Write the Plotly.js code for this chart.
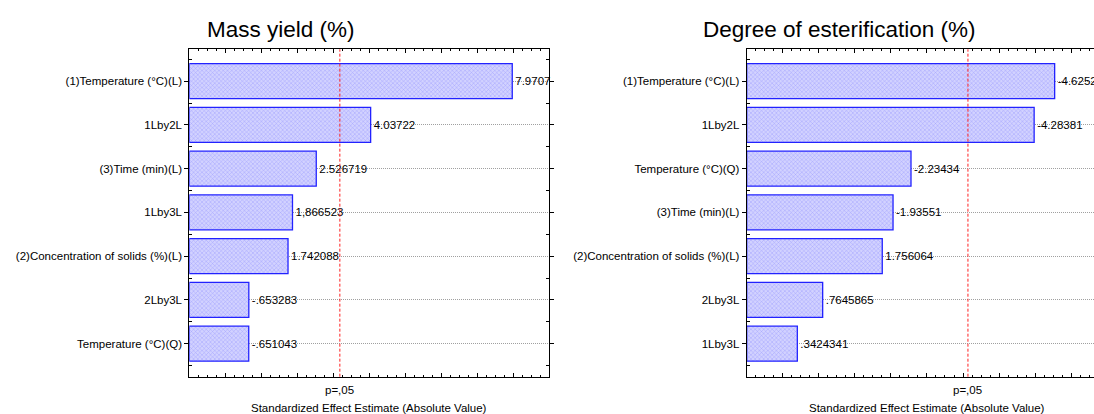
<!DOCTYPE html>
<html>
<head>
<meta charset="utf-8">
<script src="https://cdn.plot.ly/plotly-3.0.1.min.js"></script>
<style>
html,body{margin:0;padding:0;background:#fff;overflow:hidden;}
#chart{width:1094px;height:414px;}
</style>
</head>
<body>
<div id="chart"></div>
<script>
// ---- data ----
var massTitle = "Mass yield (%)";
var massFactors = ["(1)Temperature (°C)(L)", "1Lby2L", "(3)Time (min)(L)", "1Lby3L",
  "(2)Concentration of solids (%)(L)", "2Lby3L", "Temperature (°C)(Q)"];
var massEffects = [7.9707, 4.03722, 2.526719, 1.866523, 1.742088, -0.653283, -0.651043];
var massLabels = ["7.9707", "4.03722", "2.526719", "1,866523", "1.742088", "-.653283", "-.651043"];

var esterTitle = "Degree of esterification (%)";
var esterFactors = ["(1)Temperature (°C)(L)", "1Lby2L", "Temperature (°C)(Q)", "(3)Time (min)(L)",
  "(2)Concentration of solids (%)(L)", "2Lby3L", "1Lby3L"];
var esterEffects = [-4.6252, -4.28381, -2.23434, -1.93551, 1.756064, 0.7645865, 0.3424341];
var esterLabels = ["-4.6252", "-4.28381", "-2.23434", "-1.93551", "1.756064", ".7645865", ".3424341"];

var pCritical = 3.182;          // p=.05 reference line
var pLabel = "p=,05";
var xAxisTitle = "Standardized Effect Estimate (Absolute Value)";

// ---- layout helpers ----
var W = 1094, H = 414;
function px(x){ return x / W; }
function py(y){ return (H - y) / H; }
var FONT = "Arial, 'Liberation Sans', sans-serif";

var massRange = [-1, 9];
var esterRange = [-0.5, (1094 - 777.2) / 60];

function idx(arr){ return arr.map(function(_, i){ return i; }); }
// bars are drawn from the left edge of the axis to |effect|
function lengths(arr, base){ return arr.map(function(v){ return Math.abs(v) - base; }); }

var barMarker = {
  color: '#c6c6fd',
  line: {color: '#2222ff', width: 1.3},
  pattern: {shape: 'x', size: 3, solidity: 0.25, fgcolor: '#9a9aff', bgcolor: '#d2d2ff'}
};

var traces = [
  {
    type: 'bar', orientation: 'h',
    base: massRange[0], x: lengths(massEffects, massRange[0]), y: idx(massFactors),
    text: massLabels, textposition: 'outside', constraintext: 'none', cliponaxis: false,
    textfont: {family: FONT, size: 11.5, color: '#000'},
    width: 0.8, marker: barMarker, xaxis: 'x', yaxis: 'y', hoverinfo: 'y'
  },
  {
    type: 'bar', orientation: 'h',
    base: esterRange[0], x: lengths(esterEffects, esterRange[0]), y: idx(esterFactors),
    text: esterLabels, textposition: 'outside', constraintext: 'none', cliponaxis: false,
    textfont: {family: FONT, size: 11.5, color: '#000'},
    width: 0.8, marker: barMarker, xaxis: 'x2', yaxis: 'y2', hoverinfo: 'y'
  }
];

var yTop = 49.3, yBot = 376.7;
var yRange = [6.754, -0.729];

function yAxis(factors, anchor, mirror){
  return {
    domain: [py(yBot), py(yTop)], anchor: anchor,
    range: yRange, tickmode: 'array', tickvals: idx(factors), ticktext: factors,
    ticks: 'outside', ticklen: 4, tickcolor: '#000', tickwidth: 1,
    minor: {tickmode: 'array', tickvals: [-0.5,0.5,1.5,2.5,3.5,4.5,5.5,6.5], ticks: 'inside', ticklen: 3, tickcolor: '#000'},
    showline: true, linecolor: '#000', linewidth: 1, mirror: mirror,
    showgrid: true, gridcolor: '#a0a0a0', griddash: '1px,1px', gridwidth: 1,
    zeroline: false,
    tickfont: {family: FONT, size: 11.5, color: '#000'}
  };
}
function xAxis(domain, range, anchor, dtick, minorDtick, mirror){
  return {
    domain: domain, anchor: anchor, range: range,
    showticklabels: false, ticks: 'inside', ticklen: 4, tickcolor: '#000',
    tickmode: 'linear', tick0: range[0], dtick: dtick,
    minor: {ticks: 'inside', ticklen: 2, tickcolor: '#000', dtick: minorDtick, tick0: range[0]},
    showline: true, linecolor: '#000', linewidth: 1, mirror: mirror,
    showgrid: false, zeroline: false
  };
}

var layout = {
  width: W, height: H,
  margin: {l: 0, r: 0, t: 0, b: 0},
  paper_bgcolor: '#fff', plot_bgcolor: '#fff',
  showlegend: false,
  font: {family: FONT, color: '#000'},
  xaxis: xAxis([px(189.3), px(549.3)], massRange, 'y', 1, 0.25, 'ticks'),
  yaxis: yAxis(massFactors, 'x', 'ticks'),
  xaxis2: xAxis([px(746.7), 1], esterRange, 'y2', 0.6, 0.15, 'ticks'),
  yaxis2: yAxis(esterFactors, 'x2', false),
  shapes: [
    {type: 'line', xref: 'x', yref: 'y domain', x0: pCritical, x1: pCritical, y0: 0, y1: 1,
     line: {color: '#ff2020', width: 1, dash: '3px,2px'}, layer: 'above'},
    {type: 'line', xref: 'x2', yref: 'y2 domain', x0: pCritical, x1: pCritical, y0: 0, y1: 1,
     line: {color: '#ff2020', width: 1, dash: '3px,2px'}, layer: 'above'}
  ],
  annotations: [
    {text: massTitle, xref: 'paper', yref: 'paper', x: px(281), y: py(30), showarrow: false,
     xanchor: 'center', yanchor: 'middle', font: {family: FONT, size: 22.5, color: '#000'}},
    {text: esterTitle, xref: 'paper', yref: 'paper', x: px(839), y: py(30), showarrow: false,
     xanchor: 'center', yanchor: 'middle', font: {family: FONT, size: 22.5, color: '#000'}},
    {text: pLabel, xref: 'x', yref: 'paper', x: pCritical, y: py(390), showarrow: false,
     xanchor: 'center', yanchor: 'middle', font: {family: FONT, size: 11.5, color: '#000'}},
    {text: pLabel, xref: 'x2', yref: 'paper', x: pCritical, y: py(390), showarrow: false,
     xanchor: 'center', yanchor: 'middle', font: {family: FONT, size: 11.5, color: '#000'}},
    {text: xAxisTitle, xref: 'paper', yref: 'paper', x: px(369.3), y: py(407.5), showarrow: false,
     xanchor: 'center', yanchor: 'middle', font: {family: FONT, size: 11.5, color: '#000'}},
    {text: xAxisTitle, xref: 'paper', yref: 'paper', x: px(926.7), y: py(407.5), showarrow: false,
     xanchor: 'center', yanchor: 'middle', font: {family: FONT, size: 11.5, color: '#000'}}
  ]
};

Plotly.newPlot('chart', traces, layout, {displayModeBar: false, staticPlot: true});
</script>
</body>
</html>
